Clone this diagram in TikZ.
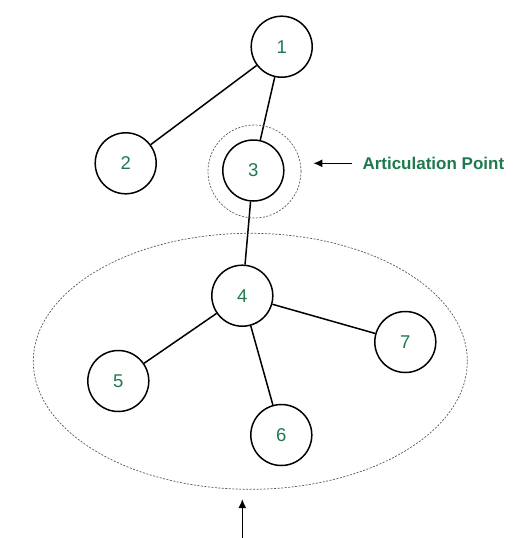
\documentclass[tikz,border=0pt]{standalone}
\usepackage{fontspec}
\setmainfont{Liberation Sans}
\usetikzlibrary{shapes.geometric,arrows.meta}
\definecolor{gfg}{HTML}{1E7A4E}
\begin{document}
\begin{tikzpicture}[x=1pt,y=-1pt,
  vert/.style={circle,draw=black,line width=1.5pt,minimum size=61pt,inner sep=0pt,text=gfg,font=\fontsize{18.5}{20}\selectfont},
  edge/.style={line width=1.5pt},
  hull/.style={draw=black!65,line width=0.7pt,dash pattern=on 2pt off 1.5pt},
  pointer/.style={line width=1.4pt,-{Latex[length=9pt,width=8pt]}}]
\useasboundingbox (0,0) rectangle (530,538);
\node[vert] (n1) at (281.7,46.7) {1};
\node[vert] (n2) at (125.7,163.3) {2};
\node[vert] (n3) at (253.3,170.5) {3};
\node[vert] (n4) at (242.3,295.7) {4};
\node[vert] (n5) at (118.3,381) {5};
\node[vert] (n6) at (281.3,435) {6};
\node[vert] (n7) at (405.3,342) {7};
\draw[edge] (n1) -- (n2);
\draw[edge] (n1) -- (n3);
\draw[edge] (n3) -- (n4);
\draw[edge] (n4) -- (n5);
\draw[edge] (n4) -- (n6);
\draw[edge] (n4) -- (n7);
\node[hull,circle,minimum size=93pt] (ring) at (254.5,171.5) {};
\node[hull,ellipse,minimum width=434pt,minimum height=256pt] (blob) at (250.3,361.3) {};
\node[anchor=west,inner sep=0pt,text=gfg,font=\fontsize{17}{20}\selectfont\bfseries] (lab) at (362.3,163.3) {Articulation Point};
\coordinate (tail1) at (351.7,163.3);
\coordinate (tip1) at (313.3,163.3);
\draw[pointer] (tail1) -- (tip1);
\coordinate (tail2) at (242.3,538);
\coordinate (tip2) at (242.3,499);
\draw[pointer] (tail2) -- (tip2);
\end{tikzpicture}
\end{document}
